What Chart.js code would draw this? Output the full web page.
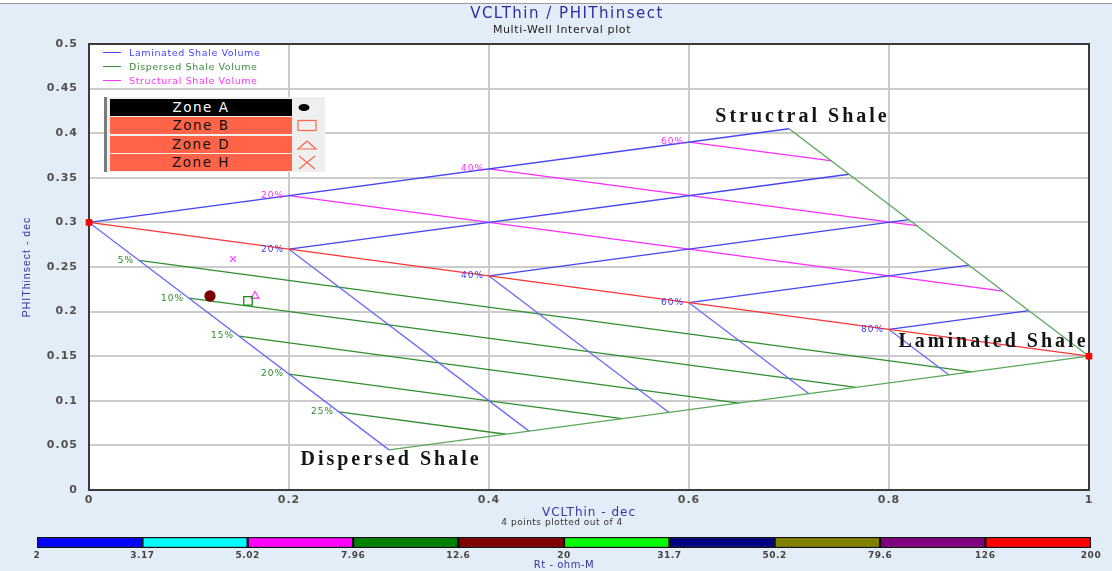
<!DOCTYPE html>
<html>
<head>
<meta charset="utf-8">
<title>VCLThin / PHIThinsect</title>
<script src="https://cdn.jsdelivr.net/npm/chart.js@4.4.1/dist/chart.umd.min.js"></script>
<style>
  body { margin: 0; width: 1112px; height: 571px; overflow: hidden; position: relative; background: #e2edf7; font-family: "DejaVu Sans", sans-serif; }
  #topline { position: absolute; left: 0; top: 0; width: 1112px; height: 3px; background: #fff; border-bottom: 1px solid #9a9a9a; }
  #main { position: absolute; left: 0; top: 0; }
  #rt { position: absolute; left: 0; top: 530px; }
  #lineLegend { position: absolute; left: 103px; top: 45px; }
  .lrow { height: 14px; display: flex; align-items: center; font-size: 9.5px; letter-spacing: 0.6px; white-space: nowrap; }
  .lrow .swatch { width: 18px; height: 0; border-top: 1.5px solid; margin-right: 8px; }
  #zones { position: absolute; left: 104px; top: 97px; width: 218px; height: 75px; background: #efefef; border-left: 3px solid #7c7c7c; }
  .zrow { position: absolute; left: 3px; width: 182px; height: 17px; line-height: 17px; text-align: center; font-size: 13.5px; letter-spacing: 1.5px; }
  .zsym { position: absolute; left: 185px; width: 30px; height: 17px; }
</style>
</head>
<body>
<div id="topline"></div>
<canvas id="main" width="1112" height="530"></canvas>
<canvas id="rt" width="1112" height="41"></canvas>
<div id="lineLegend"></div>
<div id="zones"></div>
<script>
// axis ticks
const xTicks = [0, 0.2, 0.4, 0.6, 0.8, 1];
const yTicks = [0, 0.05, 0.1, 0.15, 0.2, 0.25, 0.3, 0.35, 0.4, 0.45, 0.5];

// envelope corners (VCL, PHI)
const cleanSand = [0, 0.3];
const pureShale = [1, 0.15];
const structuralApex = [0.7, 0.405];
const dispersedApex = [0.3, 0.045];

// laminated shale volume lines (blue), each a V from the red line
const laminatedPct = [20, 40, 60, 80];
const laminatedX = [0.2, 0.4, 0.6, 0.8];
const laminatedY = [0.27, 0.24, 0.21, 0.18];
const laminatedLowX = [0.44, 0.58, 0.72, 0.86];
const laminatedLowY = [0.066, 0.087, 0.108, 0.129];
const laminatedHighX = [0.76, 0.82, 0.88, 0.94];
const laminatedHighY = [0.354, 0.303, 0.252, 0.201];

// dispersed shale volume lines (green)
const dispersedPct = [5, 10, 15, 20, 25];
const dispersedX = [0.05, 0.1, 0.15, 0.2, 0.25];
const dispersedY = [0.2575, 0.215, 0.1725, 0.13, 0.0875];
const dispersedEndX = [0.883, 0.767, 0.65, 0.533, 0.417];
const dispersedEndY = [0.1325, 0.115, 0.0975, 0.08, 0.0625];

// structural shale volume lines (magenta)
const structuralPct = [20, 40, 60];
const structuralX = [0.2, 0.4, 0.6];
const structuralY = [0.33, 0.36, 0.39];
const structuralEndX = [0.914, 0.829, 0.743];
const structuralEndY = [0.223, 0.296, 0.369];

// plotted zones
const zoneNames = ['Zone A', 'Zone B', 'Zone D', 'Zone H'];
const zoneX = [0.121, 0.159, 0.166, 0.144];
const zoneY = [0.2175, 0.212, 0.2175, 0.259];

// Rt colour scale
const rtTicks = [2, 3.17, 5.02, 7.96, 12.6, 20, 31.7, 50.2, 79.6, 126, 200];
const rtColors = ['#0000ff', '#00ffff', '#ff00ff', '#008000', '#800000', '#00ff00', '#000080', '#808000', '#800080', '#ff0000'];

const annotationText = ['Structral Shale', 'Laminated Shale', 'Dispersed Shale'];
const annotationX = [0.712, 0.903, 0.3005];
const annotationY = [0.418, 0.166, 0.0336];

// styles
const BLUE = '#4545f2', BLUE_LIGHT = '#6a6af8', GREEN = '#2f8f2f', GREEN_LIGHT = '#58a858', MAGENTA = '#ff2cff', RED = '#ff3434';
const zoneStyle = ['circle', 'rect', 'triangle', 'crossRot'];
const zoneColor = ['#7a0000', '#1a8a1a', '#ff44ff', '#ff44ff'];
const zoneRadius = [5, 6, 4.5, 4];
const zoneFill = [true, false, false, false];
const CORAL = '#ff6449';

Chart.defaults.font.family = '"DejaVu Sans", sans-serif';

function seg(x1, y1, x2, y2, color) {
    return {
        data: [{ x: x1, y: y1 }, { x: x2, y: y2 }],
        showLine: true,
        borderColor: color,
        borderWidth: 1.3,
        pointRadius: 0,
        fill: false
    };
}

const datasets = [];

zoneNames.forEach((name, i) => {
    datasets.push({
        label: name,
        data: [{ x: zoneX[i], y: zoneY[i] }],
        pointStyle: zoneStyle[i],
        pointRadius: zoneRadius[i],
        borderColor: zoneColor[i],
        backgroundColor: zoneFill[i] ? zoneColor[i] : 'rgba(0,0,0,0)',
        borderWidth: 1.3
    });
});

datasets.push({
    data: [{ x: cleanSand[0], y: cleanSand[1] }, { x: pureShale[0], y: pureShale[1] }],
    pointStyle: 'rect', pointRadius: 4, backgroundColor: '#ff0000', borderColor: '#ff0000', clip: false
});

datasets.push(seg(cleanSand[0], cleanSand[1], structuralApex[0], structuralApex[1], BLUE));
datasets.push(seg(cleanSand[0], cleanSand[1], dispersedApex[0], dispersedApex[1], BLUE_LIGHT));
datasets.push(seg(cleanSand[0], cleanSand[1], pureShale[0], pureShale[1], RED));
datasets.push(seg(structuralApex[0], structuralApex[1], pureShale[0], pureShale[1], GREEN_LIGHT));
datasets.push(seg(dispersedApex[0], dispersedApex[1], pureShale[0], pureShale[1], GREEN_LIGHT));

laminatedPct.forEach((p, i) => {
    datasets.push(seg(laminatedX[i], laminatedY[i], laminatedHighX[i], laminatedHighY[i], BLUE));
    datasets.push(seg(laminatedX[i], laminatedY[i], laminatedLowX[i], laminatedLowY[i], BLUE_LIGHT));
});
dispersedPct.forEach((p, i) => {
    datasets.push(seg(dispersedX[i], dispersedY[i], dispersedEndX[i], dispersedEndY[i], GREEN));
});
structuralPct.forEach((p, i) => {
    datasets.push(seg(structuralX[i], structuralY[i], structuralEndX[i], structuralEndY[i], MAGENTA));
});

const plotDecor = {
    id: 'plotDecor',
    beforeDraw(chart) {
        const { ctx, chartArea: a } = chart;
        ctx.letterSpacing = '1px';
        ctx.save();
        ctx.fillStyle = '#ffffff';
        ctx.fillRect(a.left, a.top, a.right - a.left, a.bottom - a.top);
        ctx.restore();
    },
    beforeDatasetsDraw(chart) {
        const { ctx, chartArea: a } = chart;
        ctx.save();
        ctx.strokeStyle = '#3a3a3a';
        ctx.lineWidth = 2;
        ctx.strokeRect(a.left, a.top, a.right - a.left, a.bottom - a.top);
        ctx.restore();
    },
    afterDatasetsDraw(chart) {
        const { ctx } = chart;
        const xs = chart.scales.x, ys = chart.scales.y;
        ctx.save();
        ctx.textBaseline = 'middle';

        // percentage labels
        ctx.font = '9px "DejaVu Sans"';
        ctx.textAlign = 'right';
        const pctLabel = (pcts, xv, yv, color) => {
            ctx.fillStyle = color;
            pcts.forEach((p, i) => {
                ctx.fillText(p + '%', xs.getPixelForValue(xv[i]) - 5, ys.getPixelForValue(yv[i]));
            });
        };
        pctLabel(dispersedPct, dispersedX, dispersedY, '#2a8a2a');
        pctLabel(laminatedPct, laminatedX, laminatedY, '#3c3cf0');
        pctLabel(structuralPct, structuralX, structuralY, '#ff30ff');

        // end-member names
        ctx.textAlign = 'center';
        ctx.font = 'bold 20px "Liberation Serif", serif';
        ctx.letterSpacing = '3px';
        ctx.fillStyle = '#151515';
        annotationText.forEach((t, i) => {
            ctx.fillText(t, xs.getPixelForValue(annotationX[i]) + 1.5, ys.getPixelForValue(annotationY[i]));
        });

        // titles
        ctx.letterSpacing = '1.5px';
        ctx.font = '15px "DejaVu Sans"';
        ctx.fillStyle = '#2d2d9f';
        ctx.fillText('VCLThin / PHIThinsect', 567, 14);
        ctx.letterSpacing = '0.6px';
        ctx.font = '11px "DejaVu Sans"';
        ctx.fillStyle = '#222222';
        ctx.fillText('Multi-Well Interval plot', 562, 30);
        ctx.letterSpacing = '0.5px';
        ctx.font = '9px "DejaVu Sans"';
        ctx.fillStyle = '#333333';
        ctx.fillText(zoneX.length + ' points plotted out of ' + zoneNames.length, 562, 523);
        ctx.restore();
    }
};

new Chart(document.getElementById('main'), {
    type: 'scatter',
    data: { datasets },
    plugins: [plotDecor],
    options: {
        responsive: false,
        animation: false,
        events: [],
        layout: { padding: { left: 0, right: 23, top: 44, bottom: 0 } },
        plugins: {
            legend: { display: false },
            tooltip: { enabled: false }
        },
        scales: {
            x: {
                type: 'linear', min: 0, max: 1,
                afterBuildTicks: s => { s.ticks = xTicks.map(v => ({ value: v })); },
                afterFit: s => { s.height = 40; },
                ticks: { callback: v => String(v), color: '#505050', font: { size: 11, weight: 'bold' }, padding: 4, maxRotation: 0 },
                grid: { color: '#cbcbcb', lineWidth: 2, drawTicks: false },
                border: { display: false },
                title: { display: true, text: 'VCLThin - dec', color: '#3535a5', font: { size: 12 }, padding: { top: 0, bottom: 10 } }
            },
            y: {
                type: 'linear', min: 0, max: 0.5,
                afterBuildTicks: s => { s.ticks = yTicks.map(v => ({ value: v })); },
                afterFit: s => { s.width = 89; },
                ticks: { callback: v => String(v), color: '#505050', font: { size: 11, weight: 'bold' }, padding: 11 },
                grid: { color: '#cbcbcb', lineWidth: 2, drawTicks: false },
                border: { display: false },
                title: { display: true, text: 'PHIThinsect - dec', color: '#3535a5', font: { family: '"Liberation Sans Narrow", "Liberation Sans", sans-serif', size: 10.5 }, padding: { top: 21, bottom: 0 } }
            }
        }
    }
});

// Rt colour bar
new Chart(document.getElementById('rt'), {
    type: 'bar',
    data: {
        labels: ['Rt'],
        datasets: rtColors.map((c, i) => ({
            data: [[rtTicks[i], rtTicks[i + 1]]],
            backgroundColor: c,
            borderColor: '#111111',
            borderWidth: 1.5,
            borderSkipped: false,
            grouped: false,
            barPercentage: 1,
            categoryPercentage: 1
        }))
    },
    plugins: [{ id: 'spacing', beforeDraw(chart) { chart.ctx.letterSpacing = '0.5px'; } }],
    options: {
        indexAxis: 'y',
        responsive: false,
        animation: false,
        events: [],
        layout: { padding: { left: 37, right: 21, top: 7, bottom: 0 } },
        plugins: { legend: { display: false }, tooltip: { enabled: false } },
        scales: {
            x: {
                type: 'logarithmic', min: 2, max: 200,
                afterBuildTicks: s => { s.ticks = rtTicks.map(v => ({ value: v })); },
                afterFit: s => { s.height = 23; },
                ticks: { callback: v => String(v), color: '#444444', font: { size: 9, weight: 'bold' }, padding: 2, autoSkip: false, maxRotation: 0 },
                grid: { display: false, drawTicks: false },
                border: { display: false },
                title: { display: true, text: 'Rt - ohm-M', color: '#3535a5', font: { size: 10 }, padding: 0 }
            },
            y: { display: false }
        }
    }
});

// line legend
const lineLegendNames = ['Laminated Shale Volume', 'Dispersed Shale Volume', 'Structural Shale Volume'];
const lineLegendColors = ['#4444ff', '#3a8a3a', '#ff33ff'];
document.getElementById('lineLegend').innerHTML = lineLegendNames.map((n, i) =>
    `<div class="lrow" style="color:${lineLegendColors[i]}"><span class="swatch" style="border-color:${lineLegendColors[i]}"></span>${n}</div>`
).join('');

// zone legend
const zoneSymbols = [
    '<ellipse cx="12" cy="8.5" rx="5.5" ry="3.5" fill="#000"/>',
    `<rect x="6" y="3.5" width="18" height="10" fill="none" stroke="${CORAL}" stroke-width="1.2"/>`,
    `<polygon points="6,13 24,13 15,5" fill="none" stroke="${CORAL}" stroke-width="1.2"/>`,
    `<path d="M7 2 L23 15 M7 15 L23 2" stroke="${CORAL}" stroke-width="1.2"/>`
];
document.getElementById('zones').innerHTML = zoneNames.map((n, i) => {
    const top = 2 + i * 18.3;
    const bg = i === 0 ? '#000' : CORAL;
    const fg = i === 0 ? '#fff' : '#111';
    return `<div class="zrow" style="top:${top}px;background:${bg};color:${fg}">${n}</div>` +
        `<svg class="zsym" style="top:${top}px" viewBox="0 0 30 17">${zoneSymbols[i]}</svg>`;
}).join('');
</script>
</body>
</html>
